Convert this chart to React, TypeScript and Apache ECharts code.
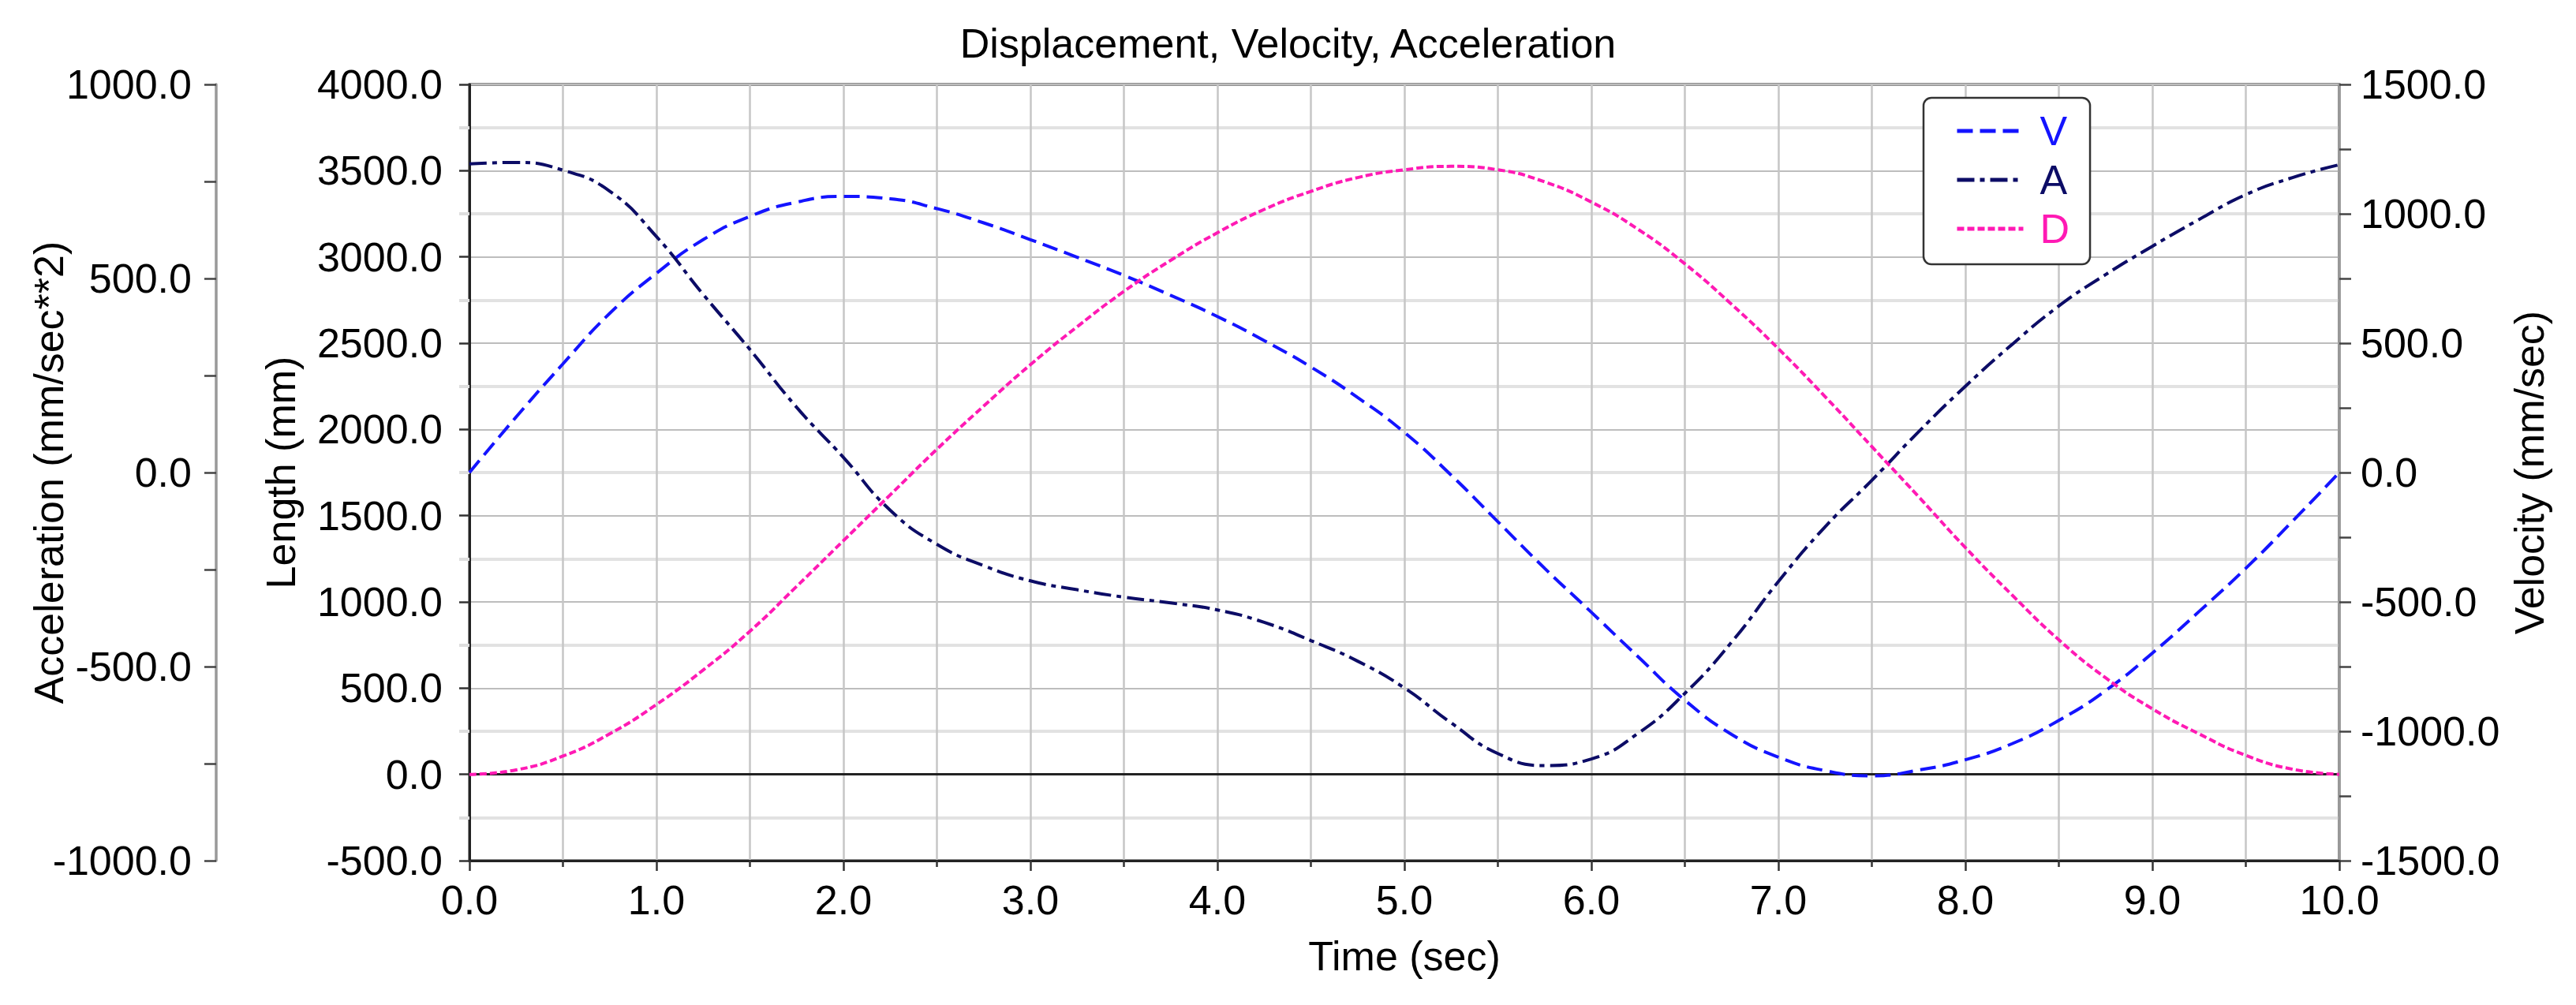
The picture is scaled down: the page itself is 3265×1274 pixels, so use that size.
import React, { useEffect, useRef } from "react";
import * as echarts from "echarts";

const timeSec = [
  0, 0.25, 0.5, 0.75, 1.0, 1.25, 1.5, 1.75, 2.0, 2.25, 2.5, 2.75, 3.0, 3.25,
  3.5, 3.75, 4.0, 4.25, 4.5, 4.75, 5.0, 5.25, 5.5, 5.75, 6.0, 6.25, 6.5, 6.75,
  7.0, 7.25, 7.5, 7.75, 8.0, 8.25, 8.5, 8.75, 9.0, 9.25, 9.5, 9.75, 10.0,
];

const displacement = [
  0, 26, 106, 235, 405, 605, 830, 1090, 1355, 1620, 1885, 2135, 2375, 2595,
  2800, 2980, 3140, 3275, 3380, 3460, 3505, 3525, 3505, 3435, 3318, 3160, 2960,
  2725, 2468, 2190, 1900, 1610, 1315, 1040, 780, 560, 380, 235, 110, 30, 0,
];

const velocity = [
  0, 215, 420, 615, 770, 900, 990, 1045, 1067, 1058, 1020, 965, 900, 832, 762,
  685, 603, 510, 408, 290, 155, -10, -190, -370, -540, -712, -880, -1012, -1100,
  -1152, -1172, -1150, -1110, -1048, -958, -843, -698, -537, -370, -188, 0,
];

const acceleration = [
  795, 799, 779, 725, 608, 459, 317, 168, 39, -97, -185, -240, -279, -302, -321,
  -336, -354, -386, -433, -486, -555, -645, -724, -755, -738, -672, -569, -437,
  -281, -140, -20, 105, 222, 330, 429, 510, 583, 652, 716, 760, 793,
];

const seriesNames = ["V", "A", "D"];
const seriesColors = ["#1414ff", "#0c0c66", "#ff1ab4"];

const FONT = "'Liberation Sans', Arial, sans-serif";
const fmt = (v: number) => v.toFixed(1);

export default function App() {
  const ref = useRef<HTMLDivElement>(null);

  useEffect(() => {
    if (!ref.current) return;
    const chart = echarts.init(ref.current, null, { renderer: "svg" });

    const pairs = (ys: number[]) => timeSec.map((t, i) => [t, ys[i]]);
    const nameStyle = { fontSize: 52, color: "#000", fontFamily: FONT };
    const labelStyle = { fontSize: 52, color: "#000", fontFamily: FONT, formatter: fmt };

    const option: any = {
      animation: false,
      backgroundColor: "#ffffff",
      textStyle: { fontFamily: FONT },
      title: {
        text: "Displacement, Velocity, Acceleration",
        left: "center",
        top: 29,
        padding: 0,
        textStyle: { fontSize: 52, fontWeight: "normal", color: "#000", fontFamily: FONT, lineHeight: 52 },
      },
      grid: {
        left: 595,
        right: 300,
        top: 107,
        bottom: 183,
        show: true,
        borderColor: "#222",
        borderWidth: 3,
        backgroundColor: "transparent",
      },
      legend: {
        orient: "vertical",
        left: 2438,
        top: 124,
        padding: [16, 26, 19, 40],
        itemWidth: 84,
        itemHeight: 14,
        itemGap: 10,
        backgroundColor: "#fff",
        borderColor: "#333",
        borderWidth: 2.5,
        borderRadius: 10,
        selectedMode: false,
        itemStyle: { opacity: 0 },
        lineStyle: { width: 5 },
        textStyle: { fontSize: 52, lineHeight: 50, fontFamily: FONT, padding: [0, 0, 0, 16] },
        data: seriesNames.map((n, i) => ({ name: n, textStyle: { color: seriesColors[i] } })),
      },
      xAxis: {
        type: "value",
        min: 0,
        max: 10,
        interval: 1,
        name: "Time (sec)",
        nameLocation: "middle",
        nameGap: 95,
        nameMoveOverlap: false,
        nameTextStyle: nameStyle,
        axisLine: { show: true, onZero: false, lineStyle: { color: "#222", width: 3 } },
        axisTick: { show: true, length: 13, lineStyle: { color: "#333", width: 2.5 } },
        minorTick: { show: true, splitNumber: 2, length: 8, lineStyle: { color: "#333", width: 2.5 } },
        axisLabel: { ...labelStyle, margin: 24 },
        splitLine: { show: true, lineStyle: { color: "#c6c6c6", width: 2.5 } },
        minorSplitLine: { show: true, lineStyle: { color: "#c6c6c6", width: 2.5 } },
      },
      yAxis: [
        {
          type: "value",
          position: "left",
          min: -500,
          max: 4000,
          interval: 500,
          name: "Length (mm)",
          nameLocation: "middle",
          nameGap: 213,
          nameMoveOverlap: false,
          nameTextStyle: nameStyle,
          axisLine: { show: true, onZero: false, lineStyle: { color: "#222", width: 3 } },
          axisTick: { show: true, length: 13, lineStyle: { color: "#333", width: 2.5 } },
          minorTick: { show: true, splitNumber: 2, length: 13, lineStyle: { color: "#dedede", width: 4 } },
          axisLabel: { ...labelStyle, margin: 34 },
          splitLine: { show: true, lineStyle: { color: "#bdbdbd", width: 2 } },
          minorSplitLine: { show: true, lineStyle: { color: "#e2e2e2", width: 4 } },
        },
        {
          type: "value",
          position: "right",
          min: -1500,
          max: 1500,
          interval: 500,
          name: "Velocity (mm/sec)",
          nameLocation: "middle",
          nameGap: 215,
          nameMoveOverlap: false,
          nameTextStyle: nameStyle,
          axisLine: { show: true, onZero: false, lineStyle: { color: "#999", width: 3.5 } },
          axisTick: { show: true, length: 15, lineStyle: { color: "#444", width: 2.5 } },
          minorTick: { show: true, splitNumber: 2, length: 15, lineStyle: { color: "#444", width: 2.5 } },
          axisLabel: { ...labelStyle, margin: 27 },
          splitLine: { show: false },
        },
        {
          type: "value",
          position: "left",
          offset: 321,
          min: -1000,
          max: 1000,
          interval: 500,
          name: "Acceleration (mm/sec**2)",
          nameLocation: "middle",
          nameGap: 186,
          nameMoveOverlap: false,
          nameTextStyle: nameStyle,
          axisLine: { show: true, onZero: false, lineStyle: { color: "#999", width: 3.5 } },
          axisTick: { show: true, length: 15, lineStyle: { color: "#444", width: 2.5 } },
          minorTick: { show: true, splitNumber: 2, length: 15, lineStyle: { color: "#444", width: 2.5 } },
          axisLabel: { ...labelStyle, margin: 31 },
          splitLine: { show: false },
        },
      ],
      series: [
        {
          name: "V",
          type: "line",
          yAxisIndex: 1,
          data: pairs(velocity),
          smooth: true,
          symbol: "none",
          showSymbol: false,
          itemStyle: { color: seriesColors[0] },
          lineStyle: { color: seriesColors[0], width: 4, type: [20, 9] },
          z: 3,
        },
        {
          name: "A",
          type: "line",
          yAxisIndex: 2,
          data: pairs(acceleration),
          smooth: true,
          symbol: "none",
          showSymbol: false,
          itemStyle: { color: seriesColors[1] },
          lineStyle: { color: seriesColors[1], width: 4, type: [22, 7, 6, 7] },
          z: 3,
        },
        {
          name: "D",
          type: "line",
          yAxisIndex: 0,
          data: pairs(displacement),
          smooth: true,
          symbol: "none",
          showSymbol: false,
          itemStyle: { color: seriesColors[2] },
          lineStyle: { color: seriesColors[2], width: 4, type: [9, 4] },
          z: 3,
          markLine: {
            silent: true,
            symbol: ["none", "none"],
            label: { show: false },
            lineStyle: { color: "#222", width: 3, type: "solid" },
            data: [{ yAxis: 0 }],
            z: 2,
          },
        },
      ],
    };

    chart.setOption(option);
    return () => chart.dispose();
  }, []);

  return (
    <div
      ref={ref}
      style={{ position: "fixed", left: 0, top: 0, width: 3265, height: 1274, background: "#fff" }}
    />
  );
}
